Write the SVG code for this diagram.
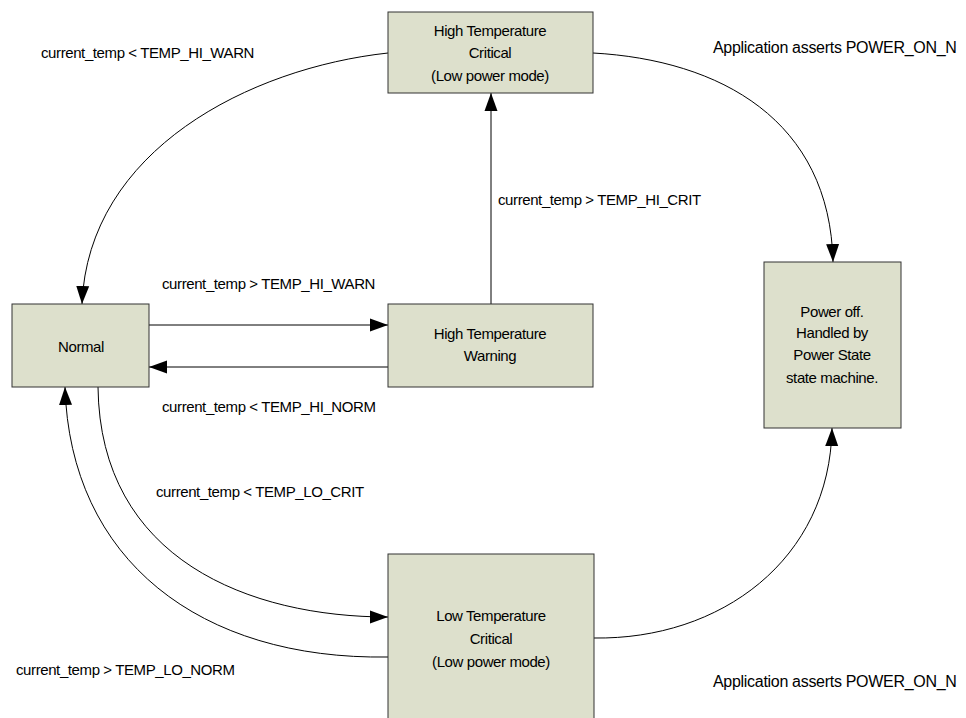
<svg xmlns="http://www.w3.org/2000/svg" width="966" height="718" viewBox="0 0 966 718">
  <style>
    .node rect { fill: #dde0cc; stroke: #333; stroke-width: 1; }
    .node text { font-family: "Liberation Sans", Arial, sans-serif; font-size: 15px; fill: #000; text-anchor: middle; letter-spacing: -0.4px; }
    .edge { fill: none; stroke: #000; stroke-width: 1; }
    .lbl { font-family: "Liberation Sans", Arial, sans-serif; font-size: 15px; fill: #000; letter-spacing: -0.4px; }
    .lbl.big { font-size: 16px; letter-spacing: -0.3px; }
  </style>
  <defs>
    <marker id="arr" markerUnits="userSpaceOnUse" markerWidth="18" markerHeight="14" refX="18" refY="7" orient="auto">
      <path d="M0,0.5 L18,7 L0,13.5 Z" fill="#000"/>
    </marker>
  </defs>
  <rect width="966" height="718" fill="#fff"/>

  <g id="connectors">
    <path class="edge" d="M388,53 C250,68 88,150 82,304" marker-end="url(#arr)"/>
    <path class="edge" d="M149,325 L388,325" marker-end="url(#arr)"/>
    <path class="edge" d="M388,367 L149,367" marker-end="url(#arr)"/>
    <path class="edge" d="M491,304 L491,93" marker-end="url(#arr)"/>
    <path class="edge" d="M98,387 C100,560 250,617 388,617" marker-end="url(#arr)"/>
    <path class="edge" d="M388,657 C200,660 70,560 65,387" marker-end="url(#arr)"/>
    <path class="edge" d="M593,53 C720,60 830,120 833,262" marker-end="url(#arr)"/>
    <path class="edge" d="M594,638 C720,640 830,560 832,428" marker-end="url(#arr)"/>
  </g>

  <g id="labels">
    <text class="lbl" x="41" y="58">current_temp &lt; TEMP_HI_WARN</text>
    <text class="lbl" x="162" y="289">current_temp &gt; TEMP_HI_WARN</text>
    <text class="lbl" x="162" y="412">current_temp &lt; TEMP_HI_NORM</text>
    <text class="lbl" x="498" y="205">current_temp &gt; TEMP_HI_CRIT</text>
    <text class="lbl" x="156" y="497">current_temp &lt; TEMP_LO_CRIT</text>
    <text class="lbl" x="16" y="675">current_temp &gt; TEMP_LO_NORM</text>
    <text class="lbl big" x="713" y="53">Application asserts POWER_ON_N</text>
    <text class="lbl big" x="713" y="687">Application asserts POWER_ON_N</text>
  </g>

  <g id="node-high-critical" class="node">
    <rect x="388" y="12" width="205" height="81"/>
    <text x="490" y="36">High Temperature</text>
    <text x="490" y="58">Critical</text>
    <text x="490" y="81">(Low power mode)</text>
  </g>
  <g id="node-normal" class="node">
    <rect x="12" y="304" width="137" height="83"/>
    <text x="81" y="352">Normal</text>
  </g>
  <g id="node-high-warning" class="node">
    <rect x="388" y="304" width="205" height="83"/>
    <text x="490" y="339">High Temperature</text>
    <text x="490" y="361">Warning</text>
  </g>
  <g id="node-power-off" class="node">
    <rect x="764" y="262" width="137" height="166"/>
    <text x="832" y="317">Power off.</text>
    <text x="832" y="338">Handled by</text>
    <text x="832" y="360">Power State</text>
    <text x="832" y="383">state machine.</text>
  </g>
  <g id="node-low-critical" class="node">
    <rect x="388" y="554" width="206" height="180"/>
    <text x="491" y="621">Low Temperature</text>
    <text x="491" y="644">Critical</text>
    <text x="491" y="667">(Low power mode)</text>
  </g>
</svg>
